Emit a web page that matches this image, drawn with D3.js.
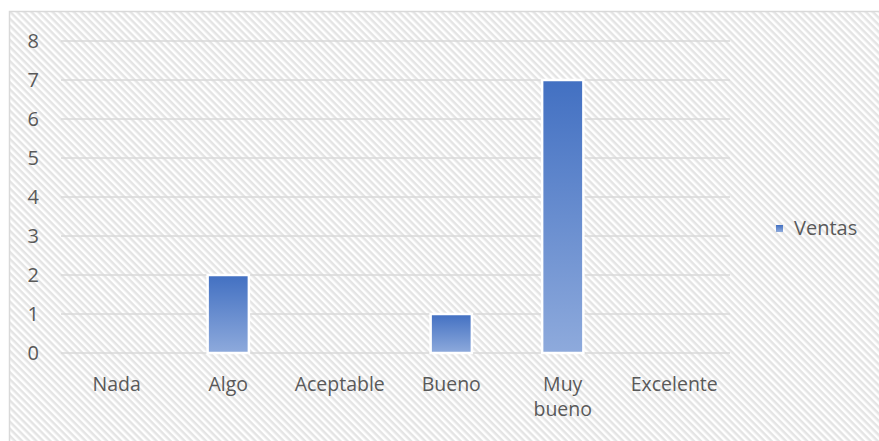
<!DOCTYPE html>
<html><head><meta charset="utf-8">
<script src="https://cdn.jsdelivr.net/npm/d3@7"></script>
<style>html,body{margin:0;padding:0;background:#fff;}svg{display:block;font-family:"Open Sans",sans-serif;}</style>
</head><body>
<script>
const categories = ["Nada","Algo","Aceptable","Bueno","Muy bueno","Excelente"];
const ventas = [0,2,0,1,7,0];
const yTicks = [0,1,2,3,4,5,6,7,8];
const seriesName = "Ventas";

const W = 879, H = 441;
const svg = d3.select("body").append("svg").attr("width", W).attr("height", H);
const defs = svg.append("defs");
const pat = defs.append("pattern").attr("id","diag").attr("patternUnits","userSpaceOnUse")
  .attr("width",5).attr("height",5).attr("patternTransform","rotate(45)");
pat.append("rect").attr("width",5).attr("height",5).attr("fill","#ffffff");
pat.append("rect").attr("width",5).attr("height",2.5).attr("fill","#e4e4e4");
const grad = defs.append("linearGradient").attr("id","barGrad").attr("x1",0).attr("y1",0).attr("x2",0).attr("y2",1);
grad.append("stop").attr("offset","0%").attr("stop-color","#4270c2");
grad.append("stop").attr("offset","100%").attr("stop-color","#8eaadc");

svg.append("rect").attr("x",9.5).attr("y",11.5).attr("width",W+10).attr("height",H+10)
  .attr("fill","url(#diag)").attr("stroke","#d9d9d9").attr("stroke-width",1.5);

const m = {left:61, right:730, top:41, bottom:353};
const x = d3.scaleBand().domain(categories).range([m.left,m.right]).paddingInner(0.63).paddingOuter(0.315);
const xc = d3.scaleBand().domain(categories).range([m.left,m.right]);
const y = d3.scaleLinear().domain([0,8]).range([m.bottom,m.top]);

svg.append("g").selectAll("line").data(yTicks).join("line")
  .attr("x1",m.left).attr("x2",m.right).attr("y1",d=>y(d)).attr("y2",d=>y(d))
  .attr("stroke","#d9d9d9").attr("stroke-width",1.5);

const yAxis = d3.axisLeft(y).tickValues(yTicks).tickSize(0).tickPadding(22);
const gy = svg.append("g").attr("transform",`translate(${m.left},0)`).call(yAxis);
gy.select(".domain").remove();
gy.selectAll("text").attr("font-size",20).attr("fill","#595959").attr("font-family","'Open Sans',sans-serif");

svg.append("g").selectAll("rect").data(categories.map((c,i)=>({c,v:ventas[i]})).filter(d=>d.v>0)).join("rect")
  .attr("x",d=>x(d.c)).attr("width",x.bandwidth())
  .attr("y",d=>y(d.v)).attr("height",d=>y(0)-y(d.v))
  .attr("fill","url(#barGrad)").attr("stroke","#ffffff").attr("stroke-width",2.5);

const xl = svg.append("g").selectAll("text").data(categories).join("text")
  .attr("x",d=>xc(d)+xc.bandwidth()/2).attr("y",391)
  .attr("text-anchor","middle").attr("font-size",19.5).attr("fill","#595959");
xl.each(function(d){
  const t = d3.select(this);
  const words = d === "Muy bueno" ? d.split(" ") : [d];
  words.forEach((w,i)=>t.append("tspan").attr("x",xc(d)+xc.bandwidth()/2).attr("dy",i===0?0:25).text(w));
});

const lg = svg.append("g").attr("transform","translate(776,225)");
lg.append("rect").attr("width",7).attr("height",7).attr("fill","url(#barGrad)");
lg.append("text").attr("x",18).attr("y",10).attr("font-size",20).attr("fill","#595959").text(seriesName);
</script>
</body></html>
